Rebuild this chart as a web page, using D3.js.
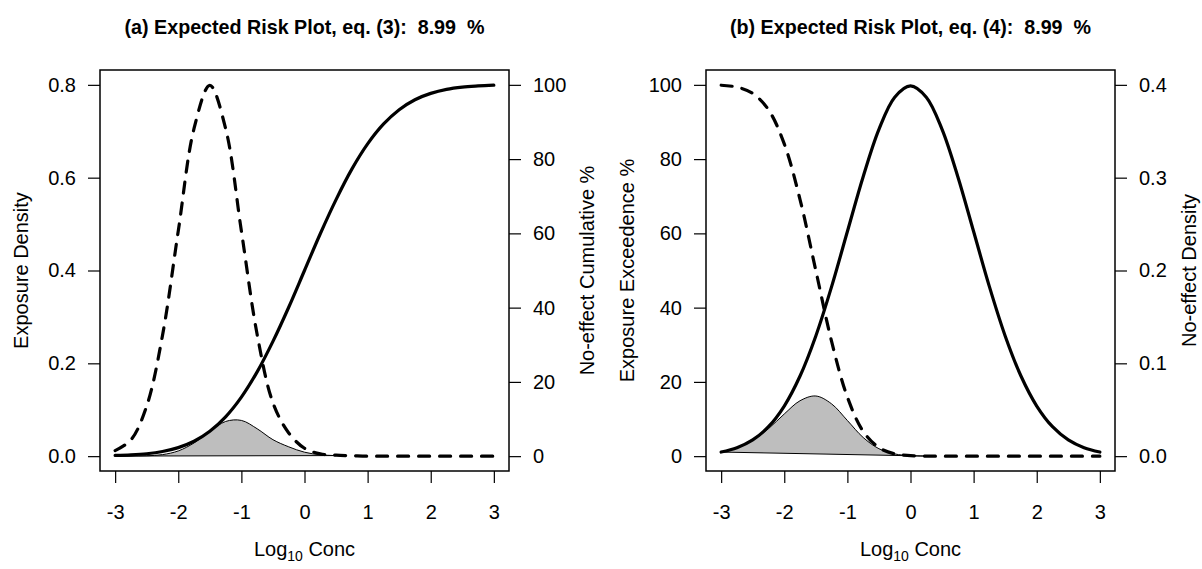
<!DOCTYPE html>
<html><head><meta charset="utf-8">
<script src="https://cdn.jsdelivr.net/npm/d3@7"></script>
<style>
body{margin:0;background:#fff}
text{font-family:"Liberation Sans",Arial,Helvetica,sans-serif;fill:#000}
.ttl{white-space:pre}
</style>
</head><body>
<svg id="chart" width="1202" height="569"></svg>
<script>
// ---------- data ----------
const xGrid = [-3,-2.75,-2.5,-2.25,-2,-1.75,-1.5,-1.25,-1,-0.75,-0.5,-0.25,0,0.25,0.5,0.75,1,1.25,1.5,1.75,2,2.25,2.5,2.75,3];

// panel (a)
const exposureDensityA = [0.012,0.035,0.108,0.26,0.485,0.706,0.799,0.706,0.485,0.262,0.115,0.05,0.017,0.005,0.002,0.001,0,0,0,0,0,0,0,0,0];
const noEffectCumulativeA = [0.2,0.35,0.65,1.25,2.3,4.0,6.7,10.6,15.9,22.7,30.9,40.1,50,59.9,69.1,77.3,84.1,89.4,93.3,96.0,97.7,98.8,99.4,99.7,99.9];
const riskXA = [-3,-2.75,-2.5,-2.25,-2,-1.75,-1.5,-1.25,-1,-0.75,-0.5,-0.25,0,0.25,0.5];
const riskA = [0.0002,0.0003,0.0008,0.0033,0.0112,0.0284,0.0535,0.0747,0.0770,0.0590,0.0355,0.0201,0.0085,0.0030,0.0012];

// panel (b)
const exposureExceedenceB = [99.9,99.4,97.7,93.3,84.1,69.1,50,30.9,15.9,6.7,2.3,0.6,0.15,0.02,0,0,0,0,0,0,0,0,0,0,0];
const noEffectDensityB = [0.0044,0.0091,0.0175,0.0317,0.054,0.0863,0.1295,0.1826,0.242,0.3011,0.3521,0.3867,0.3989,0.3867,0.3521,0.3011,0.242,0.1826,0.1295,0.0863,0.054,0.0317,0.0175,0.0091,0.0044];
const riskXB = [-3,-2.75,-2.5,-2.25,-2,-1.75,-1.5,-1.25,-1,-0.75,-0.5,-0.25,0,0.25];
const riskB = [0.0044,0.0090,0.0171,0.0296,0.0454,0.0597,0.0648,0.0563,0.0384,0.0201,0.0080,0.0024,0.0005,0.0001];

// tick labels
const xTicks = [-3,-2,-1,0,1,2,3];
const densityTicksA = [0,0.2,0.4,0.6,0.8];
const percentTicks = [0,20,40,60,80,100];
const densityTicksB = [0,0.1,0.2,0.3,0.4];

const titles = ["(a) Expected Risk Plot, eq. (3):  8.99  %", "(b) Expected Risk Plot, eq. (4):  8.99  %"];

// ---------- layout ----------
const svg = d3.select("#chart");
const boxTop = 70, boxBottom = 471, boxW = 409;
const panels = [
  {x0:100, title:titles[0],
   left:{dom:[0,0.8], ticks:densityTicksA, fmt:d3.format(".1f"), label:"Exposure Density"},
   right:{dom:[0,100], ticks:percentTicks, fmt:d3.format("d"), label:"No-effect Cumulative %"},
   dashed:{ys:exposureDensityA, side:"left"},
   solid:{ys:noEffectCumulativeA, side:"right"},
   risk:{xs:riskXA, ys:riskA, side:"left"}, rightLabelOff:85},
  {x0:706, title:titles[1],
   left:{dom:[0,100], ticks:percentTicks, fmt:d3.format("d"), label:"Exposure Exceedence %"},
   right:{dom:[0,0.4], ticks:densityTicksB, fmt:d3.format(".1f"), label:"No-effect Density"},
   dashed:{ys:exposureExceedenceB, side:"left"},
   solid:{ys:noEffectDensityB, side:"right"},
   risk:{xs:riskXB, ys:riskB, side:"right"}, rightLabelOff:81}
];

function ext(d){const s=(d[1]-d[0])*0.04;return [d[0]-s,d[1]+s];}
const fs = 20;

panels.forEach(p=>{
  const x1 = p.x0 + boxW;
  const x = d3.scaleLinear().domain(ext([-3,3])).range([p.x0,x1]);
  const yL = d3.scaleLinear().domain(ext(p.left.dom)).range([boxBottom,boxTop]);
  const yR = d3.scaleLinear().domain(ext(p.right.dom)).range([boxBottom,boxTop]);
  const ys = {left:yL, right:yR};
  const g = svg.append("g");

  // shaded risk polygon
  const poly = d3.line().x((d,i)=>x(p.risk.xs[i])).y(d=>ys[p.risk.side](d)).curve(d3.curveCatmullRom);
  g.append("path").attr("d", poly(p.risk.ys)+"Z")
    .attr("fill","#bebebe").attr("stroke","#000").attr("stroke-width",1);

  const line = sc => d3.line().x((d,i)=>x(xGrid[i])).y(d=>sc(d)).curve(d3.curveCatmullRom);
  g.append("path").attr("d", line(ys[p.dashed.side])(p.dashed.ys))
    .attr("fill","none").attr("stroke","#000").attr("stroke-width",3.2)
    .attr("stroke-linecap","round").attr("stroke-linejoin","round")
    .attr("stroke-dasharray","11,10");
  g.append("path").attr("d", line(ys[p.solid.side])(p.solid.ys))
    .attr("fill","none").attr("stroke","#000").attr("stroke-width",3.2)
    .attr("stroke-linecap","round").attr("stroke-linejoin","round");

  // box
  g.append("rect").attr("x",p.x0).attr("y",boxTop).attr("width",boxW).attr("height",boxBottom-boxTop)
    .attr("fill","none").attr("stroke","#000").attr("stroke-width",1.5);

  // axes
  const ax = (gen, tr) => {
    const a = g.append("g").attr("transform",tr).call(gen);
    a.select(".domain").remove();
    a.selectAll(".tick line").attr("stroke","#000").attr("stroke-width",1.2);
    a.selectAll(".tick text").style("font-size",fs+"px").attr("fill","#000");
    return a;
  };
  const b = ax(d3.axisBottom(x).tickValues(xTicks).tickFormat(d3.format("d")).tickSize(12).tickPadding(22).tickSizeOuter(0),
     `translate(0,${boxBottom})`);
  b.selectAll(".tick text").text(d=>d<0?"-"+Math.abs(d):d);
  ax(d3.axisLeft(yL).tickValues(p.left.ticks).tickFormat(p.left.fmt).tickSize(12).tickPadding(12).tickSizeOuter(0),
     `translate(${p.x0},0)`);
  ax(d3.axisRight(yR).tickValues(p.right.ticks).tickFormat(p.right.fmt).tickSize(12).tickPadding(12).tickSizeOuter(0),
     `translate(${x1},0)`);

  const cx = (p.x0+x1)/2, cy = (boxTop+boxBottom)/2;
  // title
  g.append("text").attr("class","ttl").attr("x",cx).attr("y",34).attr("text-anchor","middle")
    .style("font-size","19.7px").style("font-weight","bold").text(p.title);
  // x label
  const xl = g.append("text").attr("x",cx).attr("y",556).attr("text-anchor","middle").style("font-size",fs+"px");
  xl.append("tspan").text("Log");
  xl.append("tspan").attr("dy",5).style("font-size","14px").text("10");
  xl.append("tspan").attr("dy",-5).text(" Conc");
  // y labels
  g.append("text").attr("transform",`translate(${p.x0-72},${cy}) rotate(-90)`).attr("text-anchor","middle")
    .style("font-size",fs+"px").text(p.left.label);
  g.append("text").attr("transform",`translate(${x1+p.rightLabelOff},${cy}) rotate(-90)`).attr("text-anchor","middle")
    .style("font-size",fs+"px").text(p.right.label);
});
</script>
</body></html>
